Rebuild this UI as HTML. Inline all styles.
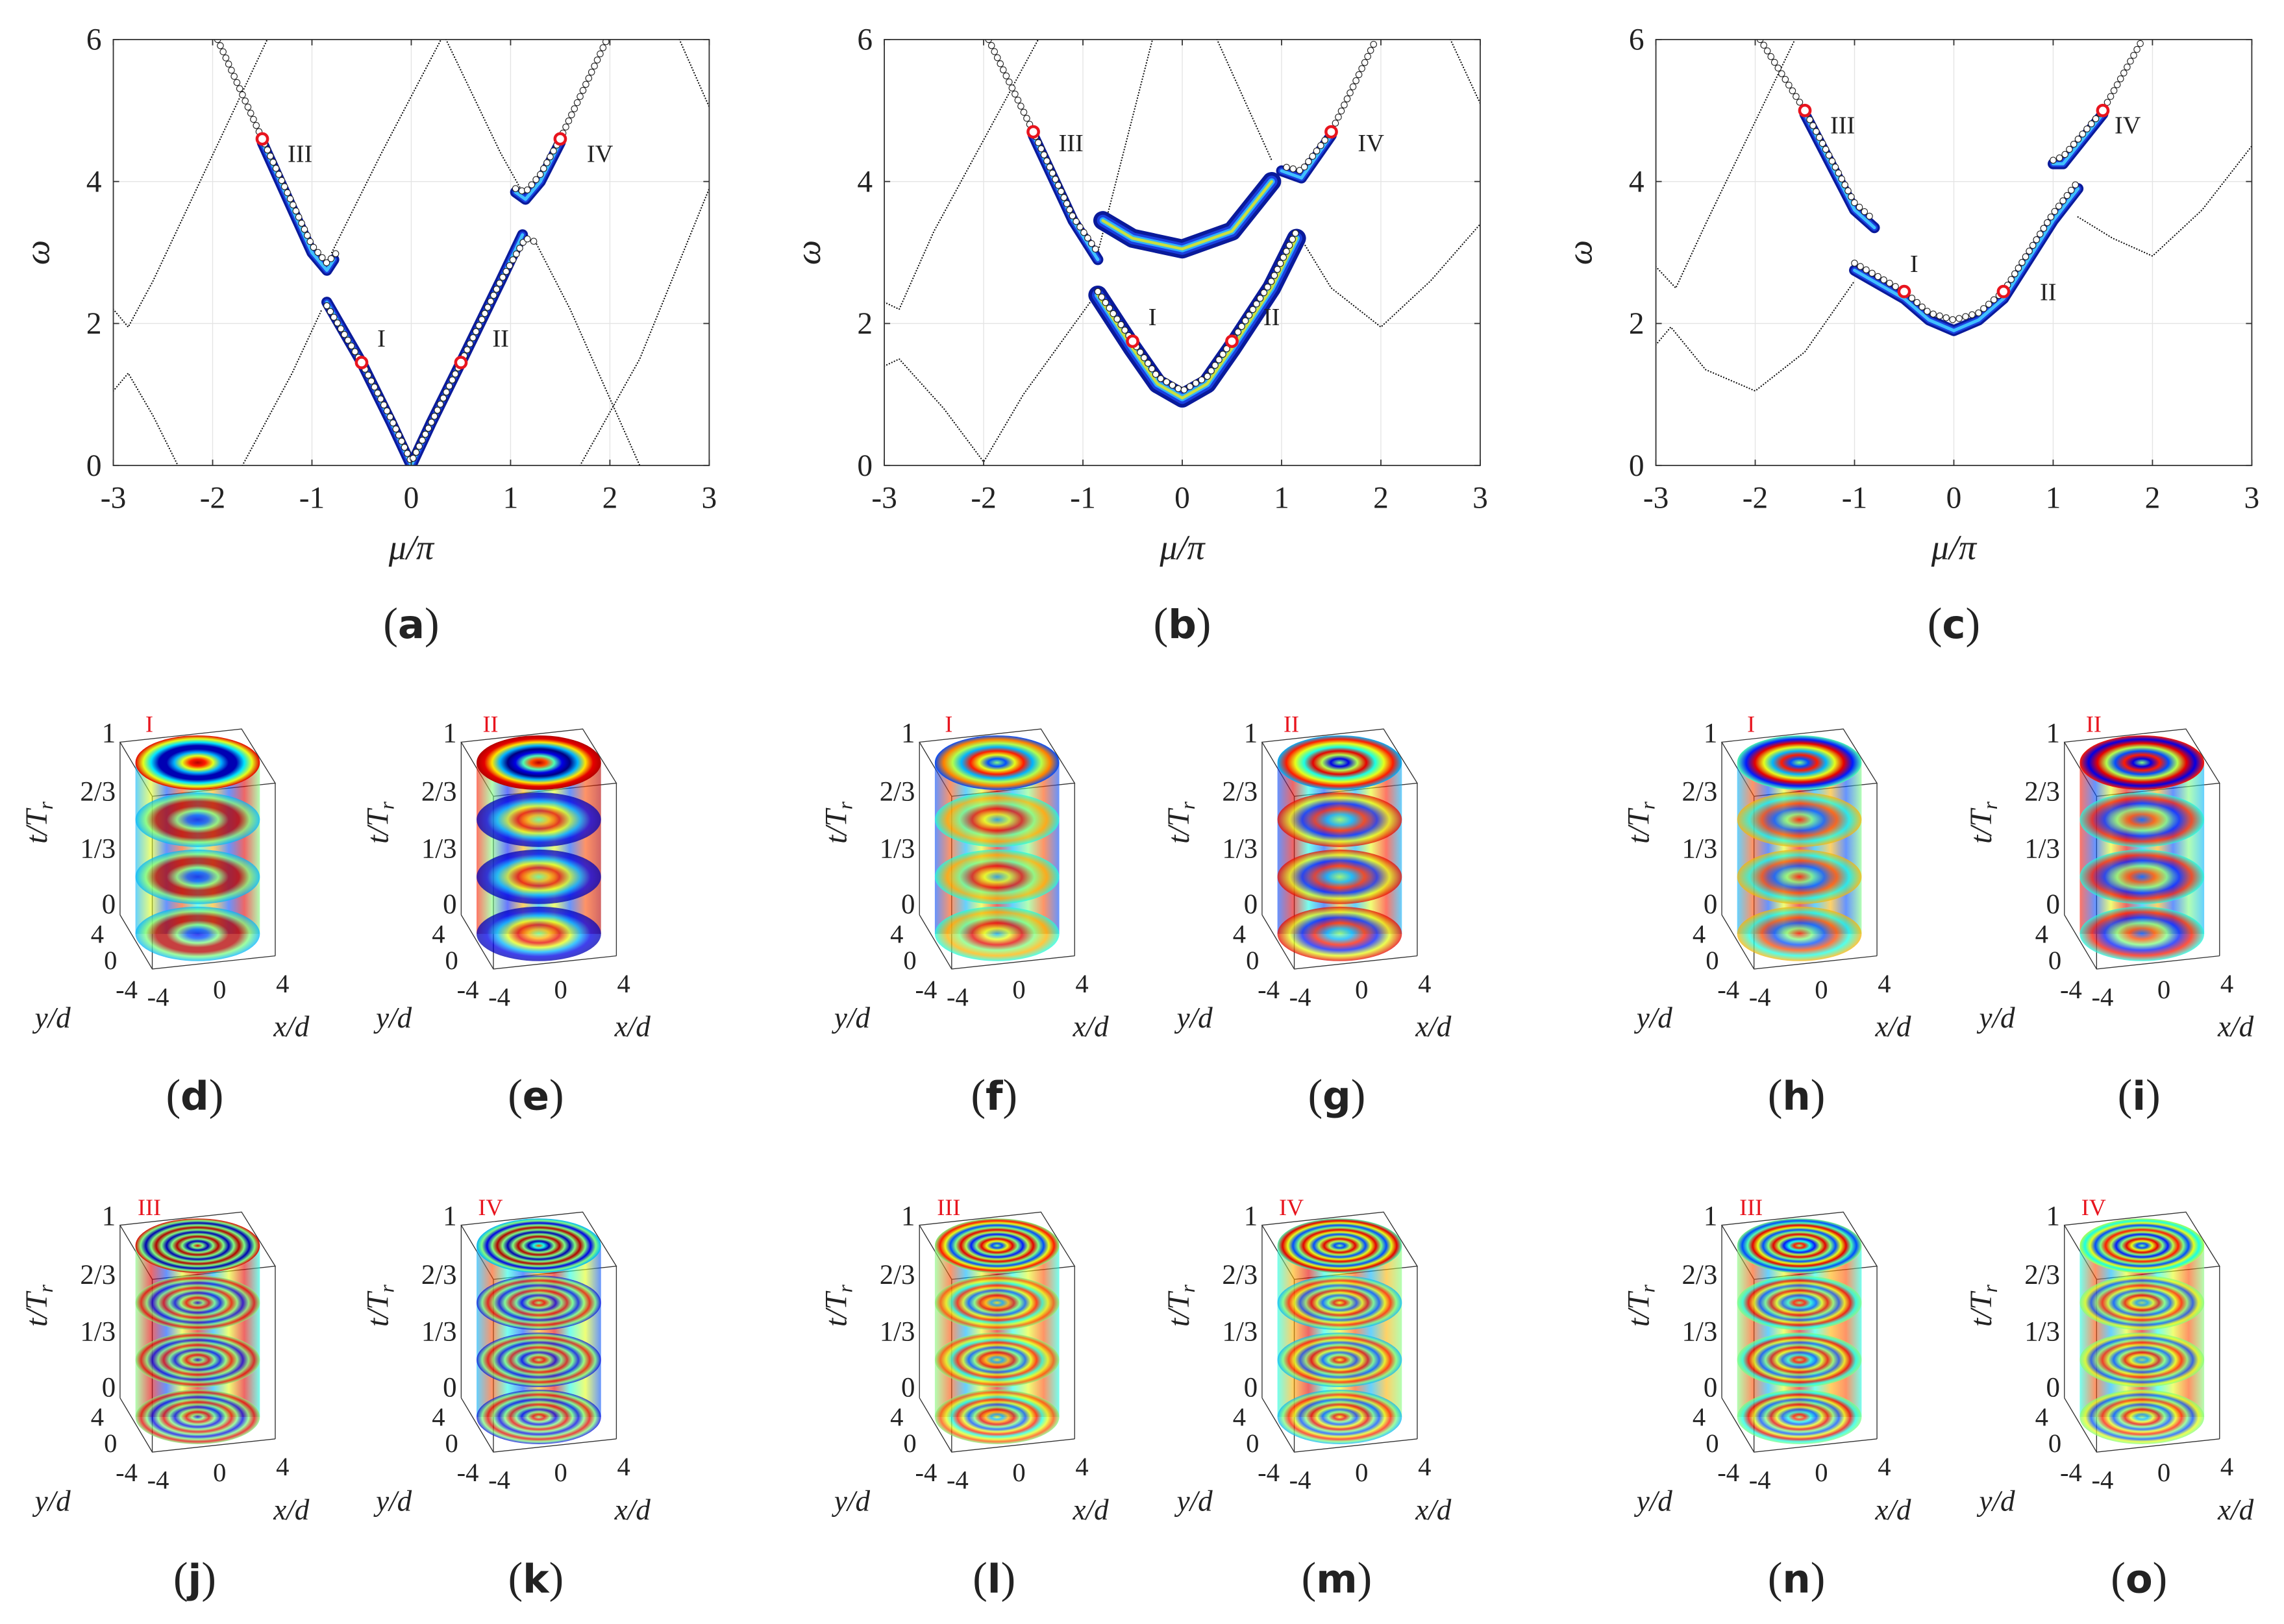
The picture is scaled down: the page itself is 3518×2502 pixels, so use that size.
<!DOCTYPE html>
<html><head><meta charset="utf-8"><title>Dispersion and field patterns</title>
<style>
html,body{margin:0;padding:0;background:#fff;}
svg{display:block;}
text{font-family:"Liberation Serif",serif;fill:#222;}
</style></head>
<body>
<svg id="fig" xmlns="http://www.w3.org/2000/svg" width="3518" height="2502" viewBox="0 0 1560 1109.45" preserveAspectRatio="none">
<defs id="defs"></defs>
</svg>
<script>
// ---------- data: dispersion panels (mu/pi, omega) ----------
const xTicks = [-3,-2,-1,0,1,2,3];
const yTicks = [0,2,4,6];
const xTickLabels = ["-3","-2","-1","0","1","2","3"];
const yTickLabels = ["0","2","4","6"];

const aDotted = [
 [[-3,1.05],[-2.85,1.3],[-2.6,0.7],[-2.35,0]],
 [[-3,2.2],[-2.85,1.95],[-2.6,2.6],[-1.45,6]],
 [[-1.7,0],[-1.2,1.3],[-0.9,2.2]],
 [[-0.8,3.0],[-0.3,4.4],[0.3,6]],
 [[0.35,6],[0.9,4.4],[1.1,3.9]],
 [[1.25,3.15],[1.6,2.2],[2.3,0]],
 [[1.7,0],[2.3,1.5],[3,3.9]],
 [[2.7,6],[3,5.05]]
];
const aCircles = [
 [[-0.85,2.25],[-0.5,1.45],[-0.2,0.65],[0,0.05],[0.2,0.6],[0.5,1.45],[0.9,2.6],[1.15,3.2],[1.25,3.15]],
 [[-1.95,6],[-1.5,4.6],[-1.0,3.1],[-0.85,2.85],[-0.75,3.0]],
 [[1.05,3.9],[1.15,3.85],[1.3,4.1],[1.5,4.6],[1.97,6]]
];
const aBands = [
 [[-0.85,2.3],[-0.5,1.45],[-0.2,0.6],[0,0.0],[0.2,0.6],[0.5,1.45],[0.9,2.6],[1.12,3.25]],
 [[-1.5,4.55],[-1.0,3.0],[-0.85,2.75],[-0.78,2.9]],
 [[1.05,3.85],[1.15,3.75],[1.3,4.0],[1.5,4.55]]
];
const aMarkers = [[-0.5,1.45],[0.5,1.45],[-1.5,4.6],[1.5,4.6]];
const aLabels = [["I",-0.3,1.8],["II",0.9,1.8],["III",-1.12,4.4],["IV",1.9,4.4]];

const bDotted = [
 [[-3,1.4],[-2.85,1.5],[-2.4,0.8],[-2,0.05],[-1.6,1.0],[-0.85,2.45]],
 [[-3,2.3],[-2.85,2.2],[-2.5,3.3],[-1.45,6]],
 [[-0.85,3.0],[-0.3,6]],
 [[0.35,6],[0.9,4.3]],
 [[1.15,3.3],[1.5,2.5],[2,1.95],[2.5,2.6],[3,3.4]],
 [[2.7,6],[3,5.1]]
];
const bCircles = [
 [[-1.95,6],[-1.5,4.7],[-1.1,3.5],[-0.85,3.0]],
 [[-0.85,2.45],[-0.5,1.75],[-0.25,1.25],[0,1.05],[0.25,1.25],[0.5,1.75],[0.9,2.6],[1.15,3.3]],
 [[1.05,4.2],[1.2,4.15],[1.5,4.7],[1.95,6]]
];
const bBands = [
 [[-1.5,4.65],[-1.1,3.45],[-0.85,2.9]],
 [[-0.85,2.4],[-0.5,1.65],[-0.25,1.15],[0,0.95],[0.25,1.15],[0.5,1.65],[0.9,2.5],[1.15,3.2]],
 [[1.0,4.15],[1.2,4.05],[1.5,4.65]],
 [[-0.8,3.45],[-0.5,3.2],[0,3.05],[0.5,3.3],[0.9,4.0]]
];
const bMarkers = [[-0.5,1.75],[0.5,1.75],[-1.5,4.7],[1.5,4.7]];
const bLabels = [["I",-0.3,2.1],["II",0.9,2.1],["III",-1.12,4.55],["IV",1.9,4.55]];

const cDotted = [
 [[-3,1.7],[-2.85,1.95],[-2.5,1.35],[-2,1.05],[-1.5,1.6],[-1.0,2.6]],
 [[-3,2.8],[-2.8,2.5],[-2.5,3.4],[-1.6,6]],
 [[1.25,3.5],[1.6,3.2],[2,2.95],[2.5,3.6],[3,4.5]]
];
const cCircles = [
 [[-1.95,6],[-1.5,5.0],[-1.0,3.7],[-0.8,3.45]],
 [[-1.0,2.85],[-0.5,2.45],[-0.25,2.15],[0,2.05],[0.25,2.15],[0.5,2.45],[1.0,3.55],[1.25,4.0]],
 [[1.0,4.3],[1.1,4.35],[1.5,5.0],[1.9,6]]
];
const cBands = [
 [[-1.5,4.95],[-1.0,3.6],[-0.8,3.35]],
 [[-1.0,2.75],[-0.5,2.35],[-0.25,2.05],[0,1.9],[0.25,2.05],[0.5,2.35],[1.0,3.45],[1.25,3.9]],
 [[1.0,4.25],[1.1,4.25],[1.5,4.95]]
];
const cMarkers = [[-0.5,2.45],[0.5,2.45],[-1.5,5.0],[1.5,5.0]];
const cLabels = [["I",-0.4,2.85],["II",0.95,2.45],["III",-1.12,4.8],["IV",1.75,4.8]];

// ---------- helpers ----------
const NS = "http://www.w3.org/2000/svg";
const svg = document.getElementById('fig');
const defs = document.getElementById('defs');
function mk(tag, attrs, parent){
  const e = document.createElementNS(NS, tag);
  for (const k in attrs) e.setAttribute(k, attrs[k]);
  (parent||svg).appendChild(e);
  return e;
}
function txt(s, x, y, size, parent, extra){
  const t = mk('text', Object.assign({x:x, y:y, 'font-size':size}, extra||{}), parent);
  t.textContent = s;
  return t;
}
function jet(v){
  v = Math.max(0, Math.min(1, v));
  const r = Math.max(0, Math.min(1, 1.5 - Math.abs(4*v - 3)));
  const g = Math.max(0, Math.min(1, 1.5 - Math.abs(4*v - 2)));
  const b = Math.max(0, Math.min(1, 1.5 - Math.abs(4*v - 1)));
  return 'rgb(' + Math.round(r*255) + ',' + Math.round(g*255) + ',' + Math.round(b*255) + ')';
}

// ---------- dispersion plot ----------
function dispersion(name, x0, x1, y0, y1, dotted, circles, bands, markers, labels, letter, wide){
  const g = mk('g', {});
  
  
  const X = mu => x0 + (mu + 3) / 6 * (x1 - x0);
  const Y = om => y1 - om / 6 * (y1 - y0);
  const clipId = name + '-clip';
  const cp = mk('clipPath', {id: clipId}, defs);
  mk('rect', {x:x0, y:y0, width:x1-x0, height:y1-y0}, cp);
  mk('rect', {x:x0, y:y0, width:x1-x0, height:y1-y0, fill:'#fff'}, g);
  xTicks.forEach(v => {
    const l = mk('line', {x1:X(v), x2:X(v), y1:y0, y2:y1, stroke:'#e4e4e4', 'stroke-width':0.6}, g);
    
    
  });
  yTicks.forEach(v => {
    const l = mk('line', {x1:x0, x2:x1, y1:Y(v), y2:Y(v), stroke:'#e4e4e4', 'stroke-width':0.6}, g);
    
    
  });
  const plotG = mk('g', {'clip-path':'url(#' + clipId + ')'}, g);
  const pts = arr => arr.map(p => X(p[0]).toFixed(2) + ',' + Y(p[1]).toFixed(2)).join(' ');
  dotted.forEach(c => {
    const pl = mk('polyline', {points:pts(c), fill:'none', stroke:'#111', 'stroke-width':1.0, 'stroke-dasharray':'0.01 1.9', 'stroke-linecap':'round'}, plotG);
    
    
  });
  bands.forEach((c, bi) => {
    const isWide = wide && (bi === 1 || bi === 3);
    const layers = isWide ? [[13,'#0a1a9a'],[8,'#1a40e0'],[4.5,'#30b0ff'],[2,'#c8e040']] : [[7.5,'#0a1a9a'],[4.5,'#1a40e0'],[2.2,'#40c0ff']];
    layers.forEach(L => {
      const pl = mk('polyline', {points:pts(c), fill:'none', stroke:L[1], 'stroke-width':L[0], 'stroke-linejoin':'round', 'stroke-linecap':'round'}, plotG);
      
      
    });
  });
  circles.forEach(c => {
    const cg = mk('g', {}, plotG);
    
    
    // place open circles along the branch polyline at regular spacing
    const sp = 4.6; let carry = 0;
    for (let i = 0; i < c.length - 1; i++){
      const ax = X(c[i][0]), ay = Y(c[i][1]), bx = X(c[i+1][0]), by = Y(c[i+1][1]);
      const len = Math.hypot(bx-ax, by-ay);
      let s = carry;
      while (s <= len){
        const f = s / len;
        mk('circle', {cx:(ax + (bx-ax)*f).toFixed(2), cy:(ay + (by-ay)*f).toFixed(2), r:2.1, fill:'#fff', stroke:'#222', 'stroke-width':0.5}, cg);
        s += sp;
      }
      carry = s - len;
    }
  });
  markers.forEach(m => {
    const c = mk('circle', {cx:X(m[0]), cy:Y(m[1]), r:3.6, fill:'#fff', stroke:'#e8141e', 'stroke-width':2}, g);
    
    
  });
  labels.forEach(L => {
    const t = txt(L[0], X(L[1]), Y(L[2]) + 6, 17, g, {'text-anchor':'middle'});
    
    
  });
  const fr = mk('rect', {x:x0, y:y0, width:x1-x0, height:y1-y0, fill:'none', stroke:'#333', 'stroke-width':0.8}, g);
  
  
  xTicks.forEach((v, i) => {
    mk('line', {x1:X(v), x2:X(v), y1:y1, y2:y1-4, stroke:'#333', 'stroke-width':0.8}, g);
    mk('line', {x1:X(v), x2:X(v), y1:y0, y2:y0+4, stroke:'#333', 'stroke-width':0.8}, g);
    const t = txt(xTickLabels[i], X(v), y1 + 29, 21, g, {'text-anchor':'middle'});
    
    
  });
  yTicks.forEach((v, i) => {
    mk('line', {x1:x0, x2:x0+4, y1:Y(v), y2:Y(v), stroke:'#333', 'stroke-width':0.8}, g);
    mk('line', {x1:x1, x2:x1-4, y1:Y(v), y2:Y(v), stroke:'#333', 'stroke-width':0.8}, g);
    const t = txt(yTickLabels[i], x0 - 8, Y(v) + 7, 21, g, {'text-anchor':'end'});
    
    
  });
  const yl = txt('ω', x0 - 44, (y0 + y1) / 2, 24, g, {'font-style':'italic', 'text-anchor':'middle', transform:'rotate(-90 ' + (x0-44) + ' ' + ((y0+y1)/2) + ')'});
  
  
  const xl = txt('μ/π', (x0 + x1) / 2, y1 + 64, 24, g, {'font-style':'italic', 'text-anchor':'middle'});
  
  
  panelLabel(letter, (x0 + x1) / 2, 436);
}
function panelLabel(letter, x, y){
  const t = mk('text', {x:x, y:y, 'font-size':30, 'text-anchor':'middle'});
  
  
  const a = mk('tspan', {}, t); a.textContent = '(';
  const b = mk('tspan', {'font-weight':'bold', 'font-family':'"DejaVu Sans", sans-serif', 'font-size':27}, t); b.textContent = letter;
  const c = mk('tspan', {}, t); c.textContent = ')';
}

dispersion('dispersion-plot-a', 77.4, 484.4, 27, 318, aDotted, aCircles, aBands, aMarkers, aLabels, 'a', false);
dispersion('dispersion-plot-b', 604, 1011, 27, 318, bDotted, bCircles, bBands, bMarkers, bLabels, 'b', true);
dispersion('dispersion-plot-c', 1131, 1538, 27, 318, cDotted, cCircles, cBands, cMarkers, cLabels, 'c', false);

// ---------- cylinder panels ----------
const cylLetters = ['d','e','f','g','h','i','j','k','l','m','n','o'];
const cylModes = ['I','II','I','II','I','II','III','IV','III','IV','III','IV'];
const cylCx = [135, 368, 681, 915, 1229, 1463];
const tLabels = ['1','2/3','1/3','0'];
const ringTop = [
 [0.95,0.85,0.6,0.3,0.05,0.05,0.35,0.6,0.9],
 [0.95,0.8,0.45,0.1,0.0,0.3,0.65,0.9,0.95],
 [0.5,0.2,0.6,0.85,0.3,0.55,0.75,0.2],
 [0.5,0.1,0.55,0.9,0.4,0.6,0.85,0.3],
 [0.5,0.2,0.85,0.3,0.6,0.9,0.15,0.45],
 [0.5,0.1,0.85,0.2,0.55,0.9,0.1,0.85],
 [0.9,0.5,0.05,0.5,0.95,0.5,0.05,0.5,0.95,0.5,0.05,0.5,0.9],
 [0.8,0.4,0.05,0.5,0.95,0.5,0.05,0.5,0.95,0.5,0.1,0.5,0.3],
 [0.5,0.2,0.6,0.9,0.5,0.15,0.55,0.9,0.5,0.2,0.6,0.85,0.5],
 [0.5,0.2,0.55,0.9,0.55,0.2,0.6,0.9,0.5,0.2,0.6,0.9,0.45],
 [0.5,0.85,0.4,0.15,0.55,0.9,0.5,0.2,0.6,0.9,0.45,0.2,0.5],
 [0.5,0.2,0.6,0.9,0.5,0.15,0.55,0.85,0.5,0.2,0.6,0.4,0.55]
];
const ringLow = [
 [0.1,0.2,0.5,0.95,0.95,0.5,0.3],
 [0.5,0.7,0.9,0.6,0.3,0.1,0.05],
 [0.3,0.6,0.9,0.5,0.7,0.4],
 [0.5,0.3,0.85,0.15,0.6,0.9],
 [0.85,0.5,0.2,0.8,0.4,0.7],
 [0.2,0.8,0.5,0.15,0.85,0.4],
 [0.1,0.5,0.9,0.5,0.1,0.5,0.9,0.5,0.1,0.5,0.9,0.5],
 [0.5,0.9,0.5,0.1,0.5,0.9,0.5,0.1,0.5,0.9,0.5,0.1],
 [0.6,0.3,0.7,0.9,0.5,0.2,0.6,0.85,0.4,0.6,0.8,0.5],
 [0.6,0.9,0.5,0.2,0.6,0.9,0.5,0.2,0.6,0.85,0.5,0.3],
 [0.5,0.85,0.4,0.2,0.6,0.9,0.5,0.2,0.6,0.9,0.4,0.5],
 [0.5,0.3,0.6,0.9,0.5,0.2,0.6,0.85,0.5,0.2,0.6,0.5]
];
const bodyStripes = [
 [0.3,0.6,0.2,0.8,0.4,0.7,0.2,0.9,0.5],
 [0.85,0.5,0.15,0.7,0.3,0.6,0.2,0.8,0.95],
 [0.2,0.8,0.3,0.6,0.9,0.3,0.5,0.8,0.2],
 [0.2,0.9,0.4,0.2,0.7,0.3,0.6,0.85,0.3],
 [0.3,0.8,0.2,0.6,0.9,0.3,0.7,0.2,0.5],
 [0.85,0.2,0.6,0.9,0.3,0.7,0.2,0.5,0.3],
 [0.5,0.9,0.2,0.6,0.9,0.3,0.6,0.9,0.4],
 [0.3,0.8,0.4,0.2,0.7,0.9,0.4,0.6,0.2],
 [0.5,0.8,0.3,0.6,0.9,0.4,0.6,0.8,0.4],
 [0.4,0.7,0.9,0.4,0.6,0.8,0.3,0.7,0.5],
 [0.5,0.8,0.3,0.6,0.9,0.4,0.7,0.8,0.4],
 [0.4,0.8,0.3,0.6,0.9,0.4,0.6,0.8,0.5]
];

function gradRadial(id, vals){
  const rg = mk('radialGradient', {id:id, cx:'50%', cy:'50%', r:'50%'}, defs);
  vals.forEach((v, i) => mk('stop', {offset:(i / (vals.length - 1) * 100).toFixed(1) + '%', 'stop-color':jet(v)}, rg));
}
function gradLinear(id, vals){
  const lg = mk('linearGradient', {id:id, x1:'0', x2:'1', y1:'0', y2:'0'}, defs);
  vals.forEach((v, i) => mk('stop', {offset:(i / (vals.length - 1) * 100).toFixed(1) + '%', 'stop-color':jet(v)}, lg));
}

function cylinder(idx){
  const row = idx < 6 ? 0 : 1;
  const cx = cylCx[idx % 6];
  const dy = row * 330;
  const top = 521 + dy;
  const rx = 42.5, ry = 18.6, gap = 39;
  const g = mk('g', {});
  
  
  gradRadial('rt' + idx, ringTop[idx]);
  gradRadial('rl' + idx, ringLow[idx]);
  gradLinear('bs' + idx, bodyStripes[idx]);
  const P = (ox, oy) => (cx + ox) + ',' + (oy);
  const box = mk('g', {stroke:'#333', 'stroke-width':0.6, fill:'none'}, g);
  
  
  mk('polygon', {points:[P(-53,top-14),P(30,top-23),P(53,top+14),P(-31,top+23)].join(' ')}, box);
  mk('polyline', {points:[P(-53,top-14+118),P(-31,top+23+118),P(53,top+14+118)].join(' ')}, box);
  mk('line', {x1:cx-53, y1:top-14, x2:cx-53, y2:top-14+118}, box);
  mk('line', {x1:cx+53, y1:top+14, x2:cx+53, y2:top+14+118}, box);
  const body = mk('rect', {x:cx-rx, y:top, width:2*rx, height:3*gap, fill:'url(#bs' + idx + ')', opacity:0.6}, g);
  
  
  for (let k = 3; k >= 0; k--){
    const e = mk('ellipse', {cx:cx, cy:top + k*gap, rx:rx, ry:ry, fill:k === 0 ? 'url(#rt' + idx + ')' : 'url(#rl' + idx + ')', opacity:k === 0 ? 1 : 0.75}, g);
    
    
  }
  mk('line', {x1:cx-31, y1:top+23, x2:cx-31, y2:top+23+118, stroke:'#333', 'stroke-width':0.6}, box);
  const tys = [499, 539, 578, 616];
  tLabels.forEach((s, i) => {
    const t = txt(s, cx - 56, tys[i] + dy + 8, 19, g, {'text-anchor':'end'});
    
    
  });
  const tl = txt('t/T', 0, 0, 21, g, {'font-style':'italic', 'text-anchor':'middle', transform:'translate(' + (cx - 103) + ',' + (562 + dy) + ') rotate(-90)'});
  const sub = mk('tspan', {'font-size':14, dy:4}, tl); sub.textContent = 'r';
  
  
  const yt = [['4', -64, 644], ['0', -55, 662], ['-4', -41, 682]];
  yt.forEach(a => {
    const t = txt(a[0], cx + a[1], a[2] + dy, 18, g, {'text-anchor':'end'});
    
    
  });
  const xt = [['-4', -27, 687], ['0', 15, 682], ['4', 58, 678]];
  xt.forEach(a => {
    const t = txt(a[0], cx + a[1], a[2] + dy, 18, g, {'text-anchor':'middle'});
    
    
  });
  const ylab = txt('y/d', cx - 99, 702 + dy, 20, g, {'font-style':'italic', 'text-anchor':'middle'});
  
  
  const xlab = txt('x/d', cx + 64, 708 + dy, 20, g, {'font-style':'italic', 'text-anchor':'middle'});
  
  
  const ml = txt(cylModes[idx], cx - 33, 500 + dy, 16, g, {'text-anchor':'middle', fill:'#e8141e', style:'fill:#e8141e'});
  
  
  panelLabel(cylLetters[idx], cx - 2, 758 + dy);
}
for (let i = 0; i < 12; i++) cylinder(i);
</script>
</body></html>
